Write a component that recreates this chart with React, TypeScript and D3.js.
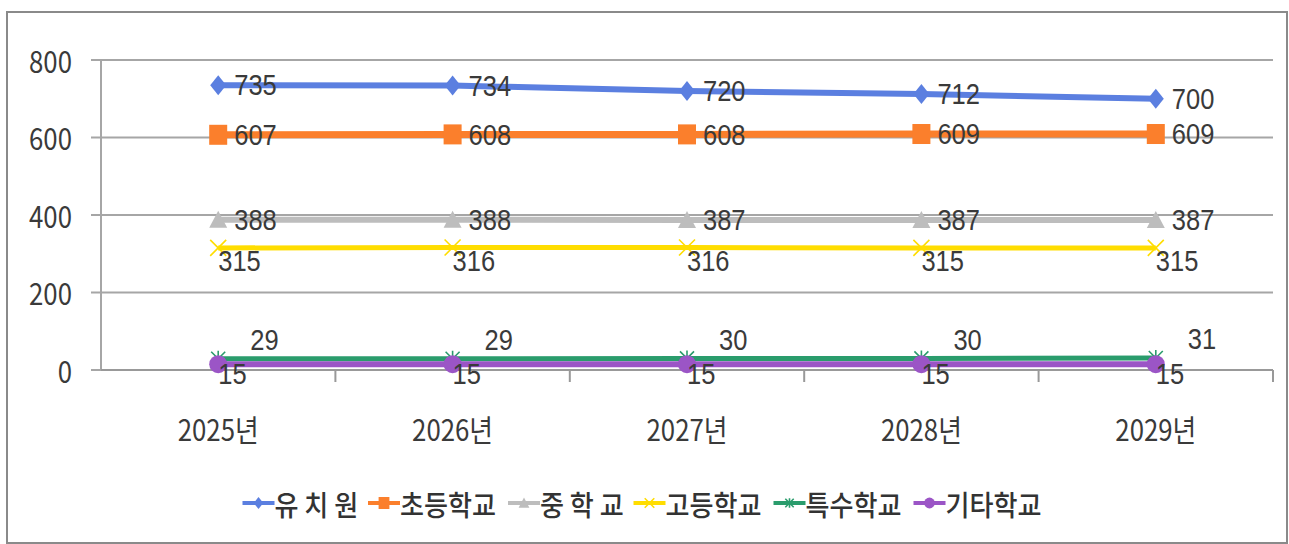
import React from "react";
import * as d3 from "d3";

const categories = ["2025년", "2026년", "2027년", "2028년", "2029년"];
const seriesNames = ["유 치 원", "초등학교", "중 학 교", "고등학교", "특수학교", "기타학교"];
const kindergarten = [735, 734, 720, 712, 700];
const elementary = [607, 608, 608, 609, 609];
const middle = [388, 388, 387, 387, 387];
const high = [315, 316, 316, 315, 315];
const special = [29, 29, 30, 30, 31];
const other = [15, 15, 15, 15, 15];
const yTicks = [0, 200, 400, 600, 800];

const colors = ["#5b7fe0", "#fb7f2c", "#bdbdbd", "#ffdd00", "#2a9c6c", "#9b55c6"];
const widths = [6, 7, 6, 5, 5, 6];
const markers = ["diamond", "square", "triangle", "x", "star", "circle"];
const labelPos = ["right", "right", "right", "below", "aboveRight", "below"];

const W = 1289, H = 544;
const FONT = "'Noto Sans CJK KR', 'Noto Sans', sans-serif";
const NUMFONT = "'Liberation Sans', Arial, sans-serif";

function Marker({ kind, color, s = 1 }: { kind: string; color: string; s?: number }) {
  switch (kind) {
    case "diamond":
      return <path d={`M0,${-10 * s}L${8 * s},0L0,${10 * s}L${-8 * s},0Z`} fill={color} />;
    case "square":
      return <rect x={-9 * s} y={-10 * s} width={18 * s} height={20 * s} fill={color} />;
    case "triangle":
      return <path d={`M0,${-9 * s}L${9 * s},${8 * s}L${-9 * s},${8 * s}Z`} fill={color} />;
    case "x":
      return (
        <path d={`M${-8 * s},${-8 * s}L${8 * s},${8 * s}M${8 * s},${-8 * s}L${-8 * s},${8 * s}`} stroke={color} strokeWidth={1.6} />
      );
    case "star":
      return (
        <path
          d={`M${-7 * s},${-7 * s}L${7 * s},${7 * s}M${7 * s},${-7 * s}L${-7 * s},${7 * s}M0,${-8 * s}L0,${8 * s}`}
          stroke={color}
          strokeWidth={1.6}
        />
      );
    default:
      return <circle r={9 * s} fill={color} />;
  }
}

function T({ x, y, anchor = "start", size = 30, sx = 0.86, children, fill = "#3a3a3a", weight = 400, family = FONT }: any) {
  return (
    <text
      transform={`translate(${x},${y}) scale(${sx},1)`}
      textAnchor={anchor}
      dominantBaseline="central"
      fontFamily={family}
      fontSize={size}
      fill={fill}
      fontWeight={weight}
    >
      {children}
    </text>
  );
}

export default function App() {
  const series = [kindergarten, elementary, middle, high, special, other];
  const left = 101, right = 1273, top = 60, bottom = 370;
  const x = d3.scaleBand<string>().domain(categories).range([left, right]);
  const y = d3.scaleLinear().domain([0, 800]).range([bottom, top]);
  const cx = (c: string) => (x(c) as number) + x.bandwidth() / 2;
  const line = d3
    .line<number>()
    .x((_, i) => cx(categories[i]))
    .y((d) => y(d));

  const charW = 26.5, spaceW = 6, markW = 32, gap = 2;
  const textW = (s: string) => [...s].reduce((a, ch) => a + (ch === " " ? spaceW : charW), 0);
  const totalW = seriesNames.reduce((a, s) => a + markW + textW(s) + gap, 0) - gap;
  let lx = (7 + 1287) / 2 - totalW / 2;
  const legendItems = seriesNames.map((s, i) => {
    const item = { x: lx, name: s, i };
    lx += markW + textW(s) + gap;
    return item;
  });
  const ly = 503;

  return (
    <svg width={W} height={H} style={{ position: "absolute", left: 0, top: 0, background: "#fff" }}>
      <rect x={7} y={12} width={1280} height={531} fill="#fff" stroke="#8a8a8a" strokeWidth={2} />
      {yTicks.map((t) => (
        <g key={t}>
          <line x1={left - 10} x2={right} y1={y(t)} y2={y(t)} stroke="#a6a6a6" strokeWidth={2} />
          <T x={72} y={y(t)} anchor="end">
            {t}
          </T>
        </g>
      ))}
      <line x1={left} x2={left} y1={top} y2={bottom} stroke="#a6a6a6" strokeWidth={2} />
      <line x1={left} x2={right} y1={bottom} y2={bottom} stroke="#999" strokeWidth={2} />
      {categories.map((c, i) => (
        <line
          key={"tk" + i}
          x1={(x(c) as number) + x.bandwidth()}
          x2={(x(c) as number) + x.bandwidth()}
          y1={bottom}
          y2={bottom + 12}
          stroke="#999"
          strokeWidth={2}
        />
      ))}
      {categories.map((c) => (
        <T key={c} x={cx(c)} y={428} anchor="middle">
          {c}
        </T>
      ))}
      {series.map((s, i) => (
        <path key={"l" + i} d={line(s) as string} fill="none" stroke={colors[i]} strokeWidth={widths[i]} />
      ))}
      {series.map((s, i) =>
        s.map((v, j) => (
          <g key={`m${i}-${j}`} transform={`translate(${cx(categories[j])},${y(v)})`}>
            <Marker kind={markers[i]} color={colors[i]} />
          </g>
        ))
      )}
      {series.map((s, i) =>
        s.map((v, j) => {
          const px = cx(categories[j]);
          const py = y(v);
          const p = labelPos[i];
          let tx = px + 16, ty = py;
          if (p === "below") {
            tx = px + 0;
            ty = py + 13;
          } else if (p === "aboveRight") {
            tx = px + 32;
            ty = py - 19;
          }
          if (i === 5) ty = py + 10;
          return (
            <T key={`t${i}-${j}`} x={tx} y={ty} size={30} sx={0.85} family={NUMFONT}>
              {v}
            </T>
          );
        })
      )}
      {legendItems.map((it) => (
        <g key={"lg" + it.i}>
          <line x1={it.x} x2={it.x + markW} y1={ly} y2={ly} stroke={colors[it.i]} strokeWidth={4} />
          <g transform={`translate(${it.x + markW / 2},${ly})`}>
            <Marker kind={markers[it.i]} color={colors[it.i]} s={0.6} />
          </g>
          <T x={it.x + markW} y={ly} size={29} sx={0.9} fill="#333" weight={500}>
            {it.name}
          </T>
        </g>
      ))}
    </svg>
  );
}
